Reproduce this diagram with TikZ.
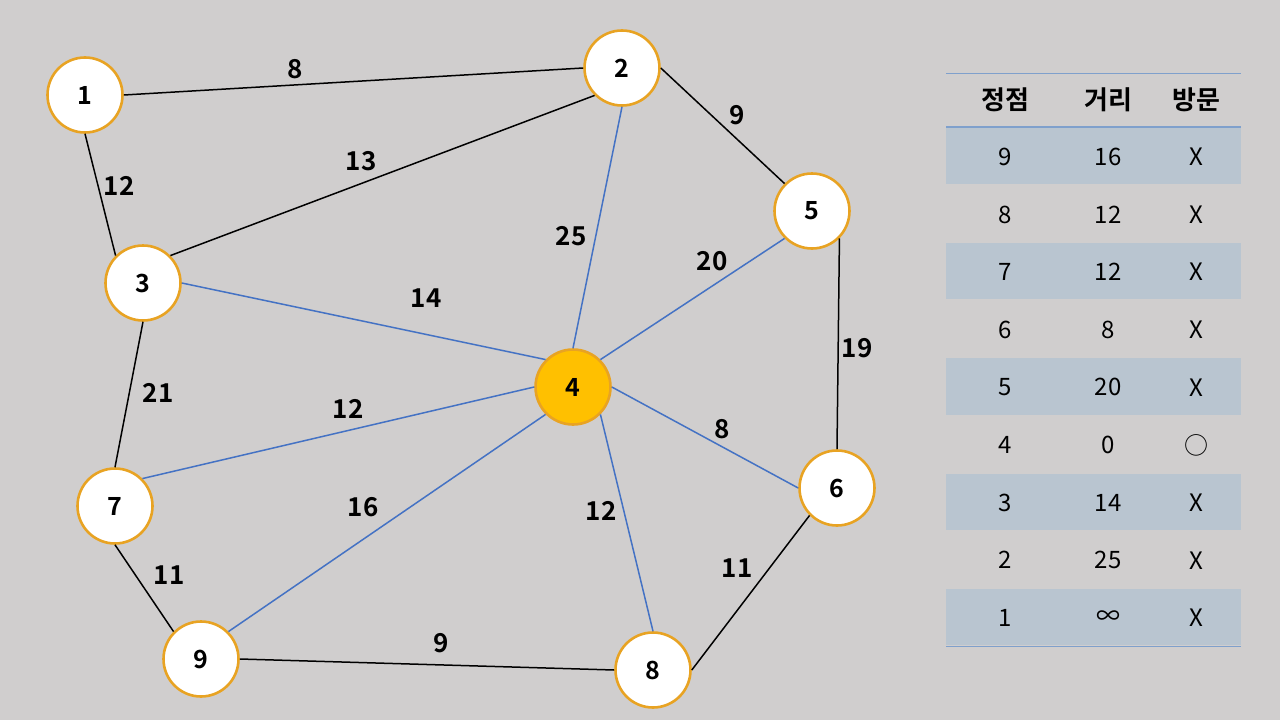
\documentclass[tikz,border=0pt]{standalone}
\usepackage{fontspec}
\setmainfont{Noto Sans CJK KR}[BoldFont={Noto Sans CJK KR Bold}]
\begin{document}
\begin{tikzpicture}[x=1pt,y=-1pt,
  vtx/.style={circle,draw=orangeedge,line width=2.6pt,fill=white,minimum size=75pt,inner sep=0pt,font=\fontsize{25}{28}\selectfont\bfseries},
  cur/.style={vtx,fill=curfill},
  blk/.style={draw=black,line width=1.5pt},
  blu/.style={draw=edgeblue,line width=1.5pt},
  wt/.style={font=\fontsize{26}{30}\selectfont\bfseries},
  cell/.style={font=\fontsize{24}{28}\selectfont},
  head/.style={font=\fontsize{26}{30}\selectfont\bfseries},
  rule/.style={draw=rulecol}]
\definecolor{bg}{HTML}{D0CECE}
\definecolor{orangeedge}{HTML}{E8A323}
\definecolor{curfill}{HTML}{FFC000}
\definecolor{edgeblue}{HTML}{4472C4}
\definecolor{rowblue}{HTML}{B9C5D0}
\definecolor{rulecol}{HTML}{7FA0CC}
\fill[bg] (0,0) rectangle (1280,720);
\useasboundingbox (0,0) rectangle (1280,720);

% vertex positions
\coordinate (p1) at (85,95);
\coordinate (p2) at (622,68);
\coordinate (p3) at (143,283);
\coordinate (p4) at (573,387);
\coordinate (p5) at (812,211);
\coordinate (p6) at (837,488);
\coordinate (p7) at (115,506);
\coordinate (p8) at (653,670);
\coordinate (p9) at (201,659);

\node[vtx] (n1) at (p1) {1};
\node[vtx] (n2) at (p2) {2};
\node[vtx] (n3) at (p3) {3};
\node[cur] (n4) at (p4) {4};
\node[vtx] (n5) at (p5) {5};
\node[vtx] (n6) at (p6) {6};
\node[vtx] (n7) at (p7) {7};
\node[vtx] (n8) at (p8) {8};
\node[vtx] (n9) at (p9) {9};

% connectors attach to the circles' compass points
\draw[blk] (n1.east) -- (n2.west);
\draw[blk] (n1.south) -- (n3.north west);
\draw[blk] (n2.south west) -- (n3.north east);
\draw[blk] (n2.east) -- (n5.north west);
\draw[blk] (n3.south) -- (n7.north);
\draw[blk] (n5.south east) -- (n6.north);
\draw[blk] (n6.south west) -- (n8.east);
\draw[blk] (n7.south) -- (n9.north west);
\draw[blk] (n9.east) -- (n8.west);
\draw[blu] (n4.north) -- (n2.south);
\draw[blu] (n4.north west) -- (n3.east);
\draw[blu] (n4.north east) -- (n5.south west);
\draw[blu] (n4.east) -- (n6.west);
\draw[blu] (n4.west) -- (n7.north east);
\draw[blu] (n4.south east) -- (n8.north);
\draw[blu] (n4.south west) -- (n9.north east);

% edge weights
\node[wt] (w12) at (295,69) {8};
\node[wt] (w13) at (119,186) {12};
\node[wt] (w23) at (361,161) {13};
\node[wt] (w25) at (737,115) {9};
\node[wt] (w24) at (571,236) {25};
\node[wt] (w45) at (712,261) {20};
\node[wt] (w34) at (426,298) {14};
\node[wt] (w37) at (158,393) {21};
\node[wt] (w56) at (857,348) {19};
\node[wt] (w47) at (348,409) {12};
\node[wt] (w46) at (722,429) {8};
\node[wt] (w49) at (363,507) {16};
\node[wt] (w48) at (601,511) {12};
\node[wt] (w79) at (169,575) {11};
\node[wt] (w68) at (737,568) {11};
\node[wt] (w98) at (441,643) {9};

% distance table
\foreach \i in {0,2,4,6,8} {
  \fill[rowblue] (946,{128+57.6*\i}) rectangle (1241,{128+57.6*(\i+1)-1.5});
}
\draw[rule,line width=0.8pt] (946,73) -- (1241,73);
\draw[rule,line width=1.4pt] (946,127) -- (1241,127);
\draw[rule,line width=1pt] (946,646) -- (1241,646);

\node[head] (h1) at (1005,100) {정점};
\node[head] (h2) at (1108,100) {거리};
\node[head] (h3) at (1196,100) {방문};

\foreach \v/\d/\s [count=\k from 0] in {9/16/X,8/12/X,7/12/X,6/8/X,5/20/X,4/0/{○},3/14/X,2/25/X,1/{∞}/X} {
  \node[cell] (v\k) at (1005,{157+57.6*\k}) {\v};
  \node[cell] (d\k) at (1108,{157+57.6*\k}) {\d};
  \node[cell] (s\k) at (1196,{157+57.6*\k}) {\s};
}
\end{tikzpicture}
\end{document}
